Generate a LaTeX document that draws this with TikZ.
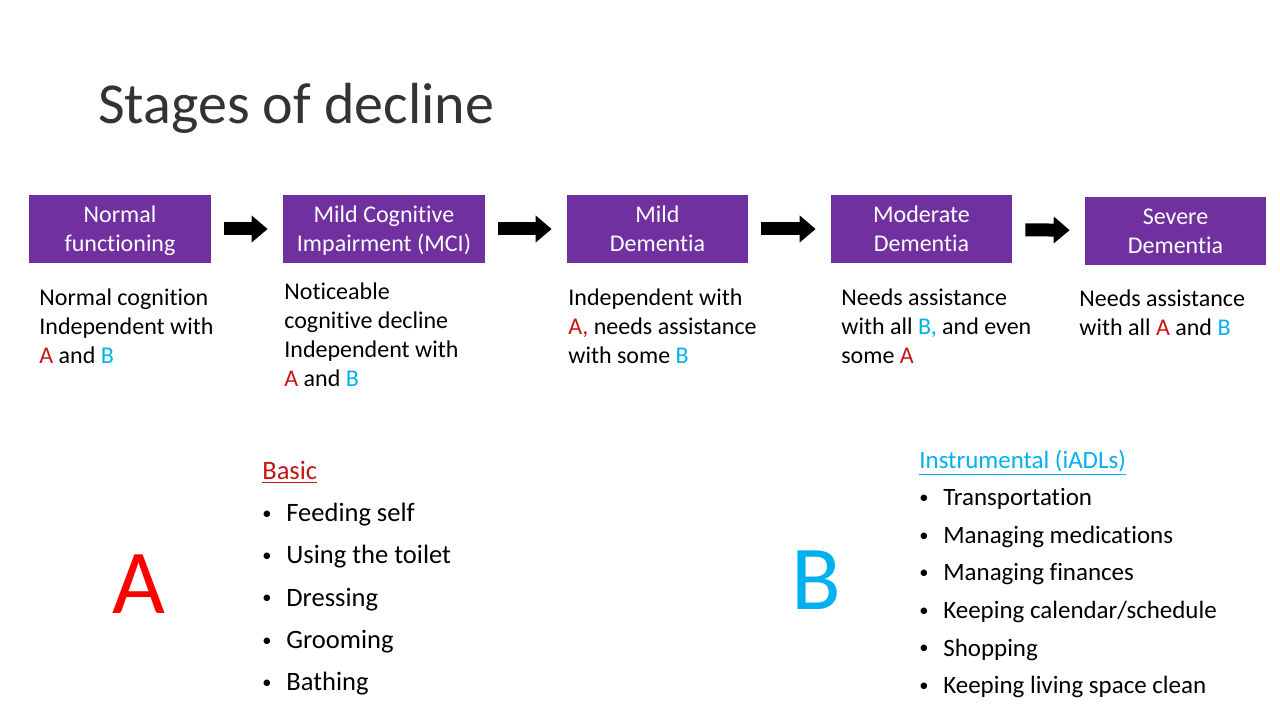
\documentclass[tikz,border=0pt]{standalone}
\usepackage{fontspec}
\setmainfont[Ligatures=NoCommon]{Carlito}
\usetikzlibrary{arrows.meta, positioning}
\definecolor{stagefill}{HTML}{7030A0}
\definecolor{ared}{HTML}{C81414}
\definecolor{bigred}{HTML}{FF0000}
\definecolor{bblue}{HTML}{00B0F0}
\definecolor{titlegray}{HTML}{333333}

\newcommand{\dotmark}{{\fontsize{10.5}{10.5}\selectfont\raisebox{1.2pt}{\textbullet}}}

\begin{document}
\begin{tikzpicture}[
    x=0.2mm, y=-0.2mm,
    every node/.style={inner sep=0pt},
    stage/.style={fill=stagefill, text=white, align=center,
        minimum width=36.4mm, minimum height=13.6mm, text depth=0pt,
        font=\fontsize{13.66}{16.5}\selectfont},
    note/.style={anchor=base west, align=left,
        font=\fontsize{13.66}{16.4}\selectfont},
    stagearrow/.style={line width=2.6mm, shorten <=2.6mm, shorten >=3mm,
        -{Triangle[length=3.2mm, width=5.2mm]}},
    bul/.style={anchor=base west, font=\fontsize{15.1}{18}\selectfont},
    ibul/.style={anchor=base west, font=\fontsize{14.2}{17}\selectfont},
    big/.style={anchor=base, font=\fontsize{52}{60}\selectfont},
]
\useasboundingbox[fill=white] (0,0) rectangle (1280,720);

% title
\node[anchor=base west, text=titlegray, font=\fontsize{33}{40}\selectfont]
    (title) at (98,124) {Stages of decline};

% the five stages
\node[stage] (normal) at (120,229) {Normal\\functioning};
\node[stage, minimum width=40.4mm] (mci) at (384,229) {Mild Cognitive\\Impairment (MCI)};
\node[stage, minimum width=36.2mm] (mild) at (657.5,229) {Mild\\Dementia};
\node[stage, minimum width=36.2mm] (moderate) at (921.5,229) {Moderate\\Dementia};
\node[stage, minimum width=36.2mm] (severe) at (1175.5,231) {Severe\\Dementia};

\draw[stagearrow] (normal) -- (mci);
\draw[stagearrow] (mci) -- (mild);
\draw[stagearrow] (mild) -- (moderate);
\draw[stagearrow] (moderate) -- (severe);

% what each stage means (base = last line)
\node[note] (normalnote) at (39,363)
    {Normal cognition\\Independent with\\\textcolor{ared}{A} and \textcolor{bblue}{B}};
\node[note] (mcinote) at (284,386)
    {Noticeable\\cognitive decline\\Independent with\\\textcolor{ared}{A} and \textcolor{bblue}{B}};
\node[note] (mildnote) at (568,363)
    {Independent with\\\textcolor{ared}{A,} needs assistance\\with some \textcolor{bblue}{B}};
\node[note] (moderatenote) at (841,363)
    {Needs assistance\\with all \textcolor{bblue}{B,} and even\\some \textcolor{ared}{A}};
\node[note] (severenote) at (1079,335)
    {Needs assistance\\with all \textcolor{ared}{A} and \textcolor{bblue}{B}};

% A: basic activities
\node[big, text=bigred] (biga) at (139,613) {A};
\node[bul, text=ared] (basic) at (262,479.5) {\underline{Basic}};
\foreach \item [count=\k] in {Feeding self, Using the toilet, Dressing, Grooming, Bathing}{
    \node[bul] (adot\k) at (262,{479.5 + \k*42.2}) {\dotmark};
    \node[bul] (a\k) at (286,{479.5 + \k*42.2}) {\item};
}

% B: instrumental activities
\node[big, text=bblue] (bigb) at (816,609) {B};
\node[ibul, text=bblue] (instr) at (919,468) {\underline{Instrumental (iADLs)}};
\foreach \item [count=\k] in {Transportation, Managing medications, Managing finances,
        Keeping calendar/schedule, Shopping, Keeping living space clean}{
    \node[ibul] (bdot\k) at (919,{468 + \k*37.6}) {\dotmark};
    \node[ibul] (b\k) at (943,{468 + \k*37.6}) {\item};
}

\end{tikzpicture}
\end{document}
